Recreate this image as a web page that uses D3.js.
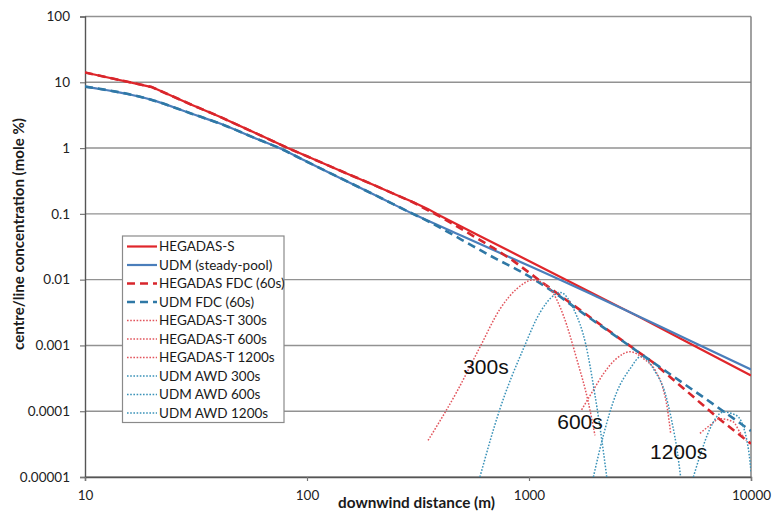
<!DOCTYPE html>
<html>
<head>
<meta charset="utf-8">
<script src="https://cdn.jsdelivr.net/npm/d3@7"></script>
<style>
  html, body { margin: 0; padding: 0; background: #ffffff; }
  svg { display: block; }
</style>
</head>
<body>
<script>
// Axis ticks
const xTicks = [10, 100, 1000, 10000];
const xTickLabels = ["10", "100", "1000", "10000"];
const yTicks = [1e-5, 1e-4, 1e-3, 1e-2, 1e-1, 1, 10, 100];
const yTickLabels = ["0.00001", "0.0001", "0.001", "0.01", "0.1", "1", "10", "100"];

// [downwind distance (m), concentration (mole %)]
const hegadasS = [[10, 14.1], [20, 8.45], [30, 4.6], [40, 3.05], [60, 1.63], [82, 1.0],
  [100, 0.75], [150, 0.415], [200, 0.275], [250, 0.197], [300, 0.152], [350, 0.119], [400, 0.093],
  [600, 0.0462], [1000, 0.0192], [1400, 0.0108], [2000, 0.00585], [3162, 0.00267], [5000, 0.00119],
  [7000, 0.000656], [10000, 0.000348]];
const udmSteady = [[10, 8.6], [20, 5.4], [30, 3.36], [40, 2.4], [60, 1.36], [75, 1.0], [100, 0.62],
  [150, 0.317], [200, 0.197], [300, 0.1], [500, 0.046], [1000, 0.0162], [1380, 0.01], [2000, 0.0056],
  [3162, 0.0027], [5500, 0.00112], [10000, 0.00043]];
const hegadasFdc = [[10, 14.1], [20, 8.45], [30, 4.6], [40, 3.05], [60, 1.63], [82, 1.0],
  [100, 0.75], [150, 0.415], [200, 0.275], [250, 0.197], [300, 0.15], [400, 0.09], [500, 0.058],
  [700, 0.0295], [850, 0.0193], [1200, 0.0081], [1800, 0.003], [2570, 0.00126], [3600, 0.00056],
  [5000, 0.000218], [7000, 8.2e-5], [10000, 3.2e-5]];
const udmFdc = [[10, 8.6], [20, 5.4], [30, 3.36], [40, 2.4], [60, 1.36], [75, 1.0], [100, 0.62],
  [150, 0.317], [200, 0.197], [300, 0.1], [360, 0.074], [500, 0.04], [715, 0.0205], [910, 0.0135],
  [1334, 0.006], [1640, 0.0036], [2200, 0.0018], [3273, 0.0007], [5000, 0.00026], [7500, 0.0001],
  [10000, 5e-5]];
const hegadasT300 = [[351, 3.6e-5], [472, 1.95e-4], [601, 9.4e-4], [740, 3.57e-3], [879, 7.2e-3],
  [1045, 9.9e-3], [1245, 7.2e-3], [1430, 2.83e-3], [1641, 6.2e-4], [1849, 1.38e-4], [1982, 4.3e-5]];
const hegadasT600 = [[1726, 1.05e-4], [1950, 2.1e-4], [2163, 3.7e-4], [2450, 6.1e-4], [2850, 8.0e-4],
  [3300, 6.2e-4], [3700, 4.2e-4], [4000, 2.3e-4], [4200, 1.1e-4], [4350, 4.5e-5]];
const hegadasT1200 = [[5890, 4.6e-5], [6530, 6.1e-5], [7245, 7.7e-5], [8310, 6.9e-5], [8910, 4.8e-5],
  [9550, 3.6e-5]];
const udmAwd300 = [[601, 1e-5], [740, 1.09e-4], [942, 8.8e-4], [1122, 3.18e-3], [1288, 5.7e-3],
  [1380, 6.4e-3], [1600, 3.4e-3], [1800, 1.05e-3], [1980, 1.8e-4], [2100, 5e-5], [2240, 1e-5]];
const udmAwd600 = [[1950, 1e-5], [2163, 4.3e-5], [2485, 1.95e-4], [2850, 4.4e-4], [3200, 6.8e-4],
  [3700, 4.0e-4], [4100, 1.9e-4], [4400, 7e-5], [4650, 2.5e-5], [4820, 1e-5]];
const udmAwd1200 = [[5500, 1e-5], [5890, 2.1e-5], [6530, 5.4e-5], [7500, 9.7e-5], [8610, 8.6e-5],
  [9550, 3.8e-5], [9900, 1.7e-5], [10000, 1.2e-5]];

const seriesNames = ["HEGADAS-S", "UDM (steady-pool)", "HEGADAS FDC (60s)", "UDM FDC (60s)",
  "HEGADAS-T 300s", "HEGADAS-T 600s", "HEGADAS-T 1200s", "UDM AWD 300s", "UDM AWD 600s", "UDM AWD 1200s"];
const seriesData = [hegadasS, udmSteady, hegadasFdc, udmFdc, hegadasT300, hegadasT600, hegadasT1200,
  udmAwd300, udmAwd600, udmAwd1200];

// Release-time annotations and their anchor (distance, concentration)
const timeLabels = ["300s", "600s", "1200s"];
const timeLabelAt = [[505, 3.7e-4], [1340, 5.4e-5], [3508, 1.86e-5]];

// Line styles per series
const styles = [
  { color: "#e0262b", width: 2.2, dash: null, smooth: false },
  { color: "#4a7ebb", width: 2.2, dash: null, smooth: true },
  { color: "#d8262c", width: 2.6, dash: "8,5", smooth: false },
  { color: "#2f78a6", width: 2.6, dash: "8,5", smooth: true },
  { color: "#e2555d", width: 1.5, dash: "1.6,1.6", smooth: true },
  { color: "#e2555d", width: 1.5, dash: "1.6,1.6", smooth: true },
  { color: "#e2555d", width: 1.5, dash: "1.6,1.6", smooth: true },
  { color: "#3a92b8", width: 1.5, dash: "1.6,1.6", smooth: true },
  { color: "#3a92b8", width: 1.5, dash: "1.6,1.6", smooth: true },
  { color: "#3a92b8", width: 1.5, dash: "1.6,1.6", smooth: true }
];

const FONT = "Lato, 'Open Sans', sans-serif";
const W = 772, H = 517;
const plot = { left: 85, right: 751, top: 16.5, bottom: 477 };

const svg = d3.select("body").append("svg").attr("width", W).attr("height", H)
  .style("font-family", FONT);

const x = d3.scaleLog().domain([10, 10000]).range([plot.left, plot.right]);
const y = d3.scaleLog().domain([1e-5, 100]).range([plot.bottom, plot.top]);

// Horizontal gridlines
svg.append("g").selectAll("line").data(yTicks).join("line")
  .attr("x1", plot.left).attr("x2", plot.right)
  .attr("y1", d => y(d)).attr("y2", d => y(d))
  .attr("stroke", "#929292").attr("stroke-width", 1.4);

// Right border
svg.append("line")
  .attr("x1", plot.right).attr("x2", plot.right)
  .attr("y1", plot.top).attr("y2", plot.bottom)
  .attr("stroke", "#7a7a7a").attr("stroke-width", 1.4);

// Axes
const yAxis = d3.axisLeft(y).tickValues(yTicks)
  .tickFormat((d, i) => yTickLabels[i]).tickSize(5).tickPadding(10);
const gy = svg.append("g").attr("transform", `translate(${plot.left},0)`).call(yAxis);

const xAxis = d3.axisBottom(x).tickValues(xTicks)
  .tickFormat((d, i) => xTickLabels[i]).tickSize(4).tickPadding(9);
const gx = svg.append("g").attr("transform", `translate(0,${plot.bottom})`).call(xAxis);

[gx, gy].forEach(g => {
  g.select(".domain").attr("stroke", "#555").attr("stroke-width", 1.4);
  g.selectAll(".tick line").attr("stroke", "#777").attr("stroke-width", 1.2);
  g.selectAll(".tick text").style("font-family", FONT)
    .style("font-size", "13.5px").style("fill", "#222");
});

// Axis titles, sized to their span along the axis
function fitText(sel, targetLength) {
  const base = 13;
  sel.style("font-size", base + "px");
  const len = sel.node().getComputedTextLength();
  sel.style("font-size", (base * targetLength / len).toFixed(2) + "px");
}

const xTitle = svg.append("text")
  .attr("x", 416.5).attr("y", 508)
  .attr("text-anchor", "middle")
  .style("font-weight", "bold").style("fill", "#1a1a1a")
  .text("downwind distance (m)");
fitText(xTitle, 157);

const yTitle = svg.append("text")
  .attr("transform", "translate(24,234) rotate(-90)")
  .attr("text-anchor", "middle")
  .style("font-weight", "bold").style("fill", "#1a1a1a")
  .text("centre/line concentration (mole %)");
fitText(yTitle, 232);

// Series
svg.append("clipPath").attr("id", "plot-clip").append("rect")
  .attr("x", plot.left).attr("y", plot.top)
  .attr("width", plot.right - plot.left).attr("height", plot.bottom - plot.top);

const straight = d3.line().x(d => x(d[0])).y(d => y(d[1]));
const smooth = d3.line().x(d => x(d[0])).y(d => y(d[1])).curve(d3.curveMonotoneX);

svg.append("g").attr("clip-path", "url(#plot-clip)")
  .selectAll("path").data(seriesData).join("path")
  .attr("d", (d, i) => (styles[i].smooth ? smooth : straight)(d))
  .attr("fill", "none")
  .attr("stroke", (d, i) => styles[i].color)
  .attr("stroke-width", (d, i) => styles[i].width)
  .attr("stroke-dasharray", (d, i) => styles[i].dash)
  .attr("stroke-linejoin", "round");

// Release-time labels
svg.append("g").selectAll("text").data(timeLabels).join("text")
  .attr("x", (d, i) => x(timeLabelAt[i][0]))
  .attr("y", (d, i) => y(timeLabelAt[i][1]))
  .style("font-family", "'Liberation Sans', Arial, sans-serif")
  .style("font-size", "21px").style("fill", "#111")
  .text(d => d);

// Legend
const legend = svg.append("g");
legend.append("rect")
  .attr("x", 122.5).attr("y", 236).attr("width", 161.5).attr("height", 186.5)
  .attr("fill", "#fff").attr("stroke", "#8a8a8a").attr("stroke-width", 1.2);

const rows = legend.selectAll("g.row").data(seriesNames).join("g")
  .attr("class", "row")
  .attr("transform", (d, i) => `translate(0,${246.5 + i * 18.5})`);

rows.append("line")
  .attr("x1", 127).attr("x2", 157).attr("y1", 0).attr("y2", 0)
  .attr("stroke", (d, i) => styles[i].color)
  .attr("stroke-width", (d, i) => styles[i].width)
  .attr("stroke-dasharray", (d, i) => styles[i].dash);

rows.append("text")
  .attr("x", 159).attr("y", 0).attr("dy", "0.36em")
  .style("font-size", "13.5px").style("fill", "#1a1a1a")
  .text(d => d);
</script>
</body>
</html>
